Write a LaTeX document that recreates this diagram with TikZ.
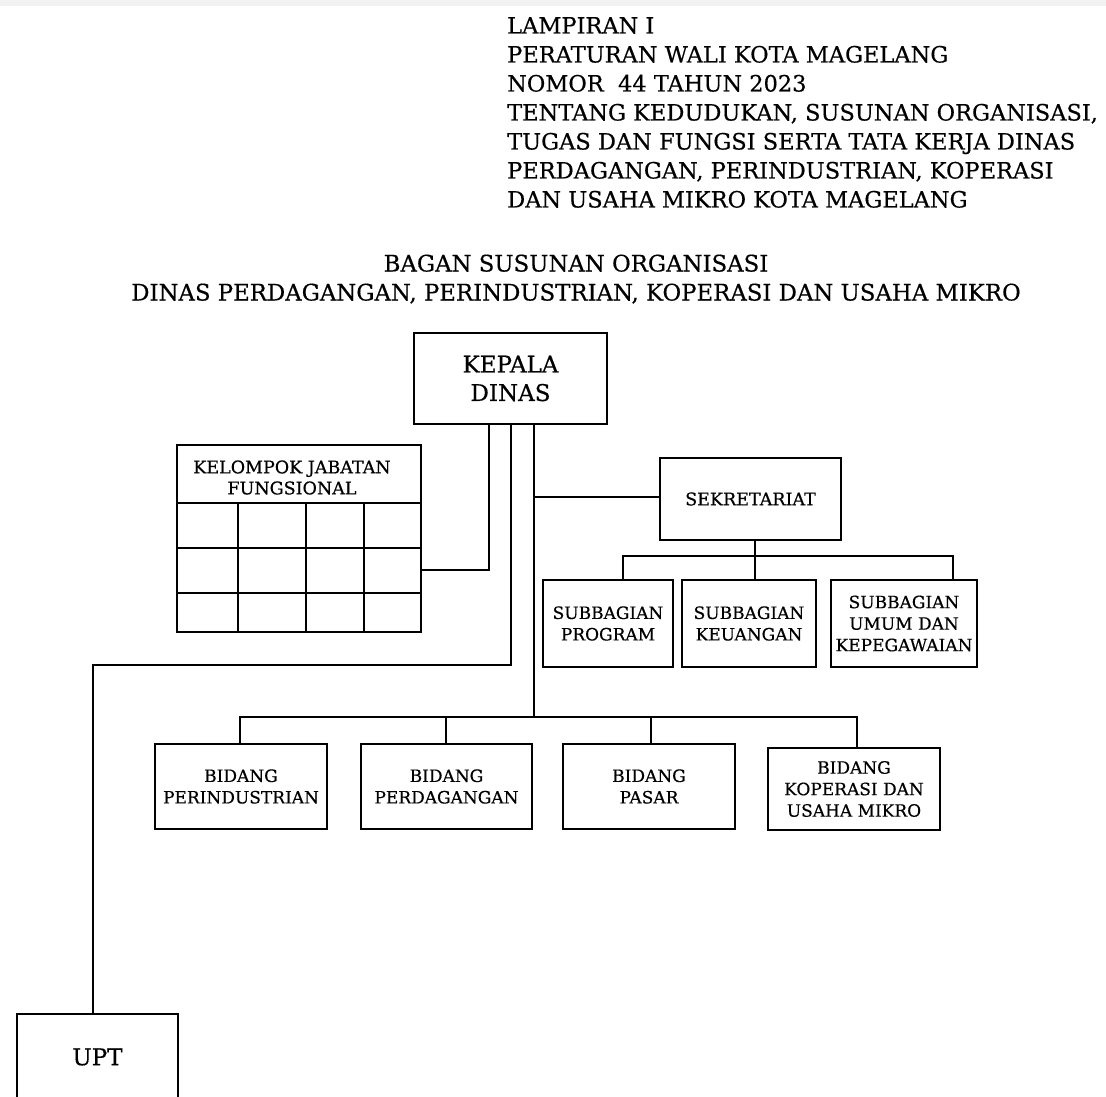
\documentclass[tikz,border=0pt]{standalone}
\usepackage{fontspec}
\setmainfont{DejaVu Serif}[FakeBold=0.5]
\begin{document}
\begin{tikzpicture}[x=1pt,y=-1pt,
  hdr/.style={anchor=base west,inner sep=0pt,font=\fontsize{22.5}{29}\selectfont},
  ttl/.style={anchor=base,inner sep=0pt,font=\fontsize{22.8}{29}\selectfont},
  box/.style={draw,line width=1.8pt,inner sep=0pt,align=center,font=\fontsize{17}{21.5}\selectfont},
  bigbox/.style={box,font=\fontsize{23}{28.5}\selectfont},
  conn/.style={line width=1.6pt,line cap=rect},
  grid/.style={line width=1.5pt}]
\useasboundingbox (0,0) rectangle (1106,1097);
\fill[black!5] (0,0) rectangle (1106,6);

% header
\node[hdr] (h1) at (507,33.5) {LAMPIRAN I};
\node[hdr] (h2) at (507,62.5) {PERATURAN WALI KOTA MAGELANG};
\node[hdr] (h3) at (507,91.5) {NOMOR\ \ 44 TAHUN 2023};
\node[hdr] (h4) at (507,120.5) {TENTANG KEDUDUKAN, SUSUNAN ORGANISASI,};
\node[hdr] (h5) at (507,149.5) {TUGAS DAN FUNGSI SERTA TATA KERJA DINAS};
\node[hdr] (h6) at (507,178.5) {PERDAGANGAN, PERINDUSTRIAN, KOPERASI};
\node[hdr] (h7) at (507,207.5) {DAN USAHA MIKRO KOTA MAGELANG};

% title
\node[ttl] (t1) at (576,271.5) {BAGAN SUSUNAN ORGANISASI};
\node[ttl] (t2) at (576,300.5) {DINAS PERDAGANGAN, PERINDUSTRIAN, KOPERASI DAN USAHA MIKRO};

% boxes
\node[bigbox,minimum width=193pt,minimum height=91pt] (kepala) at (510.5,378.5) {KEPALA\\DINAS};
\node[box,minimum width=181pt,minimum height=82pt,font=\fontsize{17.5}{21.5}\selectfont] (sek) at (750.5,499) {SEKRETARIAT};
\node[box,minimum width=130pt,minimum height=87pt] (sp) at (608,623.5) {SUBBAGIAN\\PROGRAM};
\node[box,minimum width=134pt,minimum height=87pt] (sk) at (749,623.5) {SUBBAGIAN\\KEUANGAN};
\node[box,minimum width=146pt,minimum height=87pt] (su) at (904,623.5) {SUBBAGIAN\\UMUM DAN\\KEPEGAWAIAN};
\node[box,minimum width=172pt,minimum height=85pt] (bp1) at (241,786.5) {BIDANG\\PERINDUSTRIAN};
\node[box,minimum width=171pt,minimum height=85pt] (bp2) at (446.5,786.5) {BIDANG\\PERDAGANGAN};
\node[box,minimum width=172pt,minimum height=85pt] (bp3) at (649,786.5) {BIDANG\\PASAR};
\node[box,minimum width=172pt,minimum height=82pt] (bp4) at (854,789) {BIDANG\\KOPERASI DAN\\USAHA MIKRO};
\node[bigbox,minimum width=161pt,minimum height=86pt] (upt) at (97.5,1057) {UPT};

% kelompok jabatan fungsional table
\node[box,minimum width=244pt,minimum height=187pt] (kjf) at (299,538.5) {};
\node[inner sep=0pt,align=center,font=\fontsize{17.5}{21}\selectfont] (kjft) at (292,477.5) {KELOMPOK JABATAN\\FUNGSIONAL};
\draw[grid] (177,503) -- (421,503);
\draw[grid] (177,548) -- (421,548);
\draw[grid] (177,593) -- (421,593);
\draw[grid] (238,503) -- (238,632);
\draw[grid] (306,503) -- (306,632);
\draw[grid] (364,503) -- (364,632);

% connector coordinates
\coordinate (kjfc) at (489,570);
\coordinate (uptc) at (511,665);
\coordinate (uptx) at (93,665);
\coordinate (bbus) at (534,717);
\coordinate (secc) at (534,497);
\coordinate (b1) at (240,717);
\coordinate (b2) at (446,717);
\coordinate (b3) at (651,717);
\coordinate (b4) at (857,717);
\coordinate (sbus) at (755,556);
\coordinate (s1) at (623,556);
\coordinate (s3) at (953,556);

% connectors
\draw[conn] (kepala.south -| kjfc) |- (kjf.east |- kjfc);
\draw[conn] (kepala.south -| uptc) -- (uptc) -- (uptx) -- (upt.north -| uptx);
\draw[conn] (kepala.south -| bbus) -- (bbus);
\draw[conn] (secc) -- (sek.west |- secc);
\draw[conn] (b1) -- (b4);
\draw[conn] (b1) -- (bp1.north -| b1);
\draw[conn] (b2) -- (bp2.north -| b2);
\draw[conn] (b3) -- (bp3.north -| b3);
\draw[conn] (b4) -- (bp4.north -| b4);
\draw[conn] (sek.south -| sbus) -- (sbus);
\draw[conn] (s1) -- (s3);
\draw[conn] (s1) -- (sp.north -| s1);
\draw[conn] (sbus) -- (sk.north -| sbus);
\draw[conn] (s3) -- (su.north -| s3);
\end{tikzpicture}
\end{document}
